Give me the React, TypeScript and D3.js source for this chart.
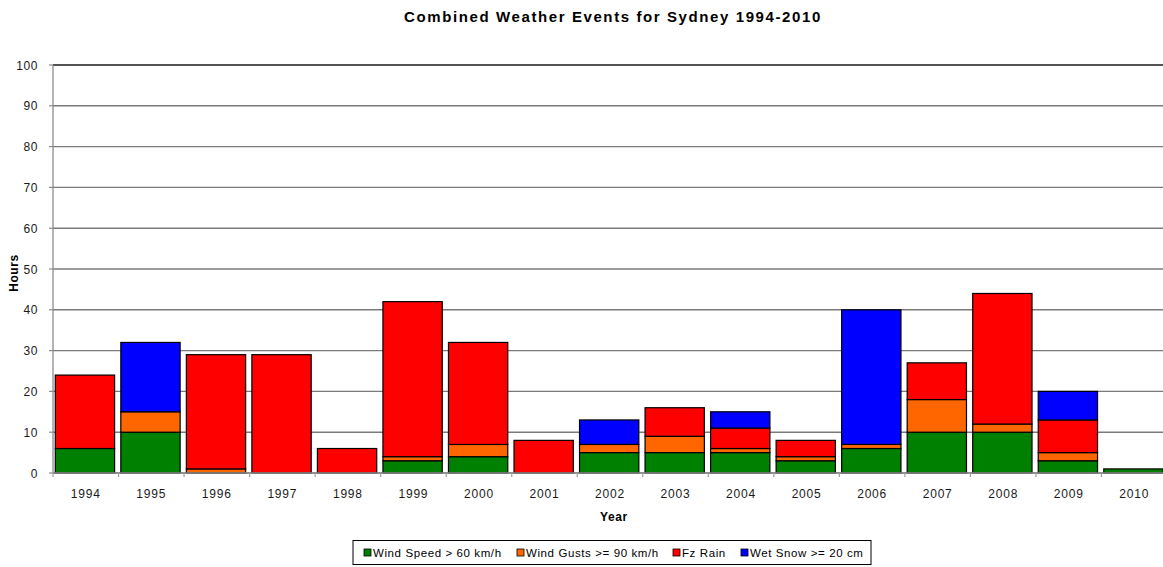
import React from "react";
import * as d3 from "d3";

const years = ["1994","1995","1996","1997","1998","1999","2000","2001","2002","2003","2004","2005","2006","2007","2008","2009","2010"];
const windSpeed = [6, 10, 0, 0, 0, 3, 4, 0, 5, 5, 5, 3, 6, 10, 10, 3, 1];
const windGusts = [0, 5, 1, 0, 0, 1, 3, 0, 2, 4, 1, 1, 1, 8, 2, 2, 0];
const fzRain = [18, 0, 28, 29, 6, 38, 25, 8, 0, 7, 5, 4, 0, 9, 32, 8, 0];
const wetSnow = [0, 17, 0, 0, 0, 0, 0, 0, 6, 0, 4, 0, 33, 0, 0, 7, 0];
const seriesNames = ["Wind Speed > 60 km/h", "Wind Gusts >= 90 km/h", "Fz Rain", "Wet Snow >= 20 cm"];
const seriesColors = ["#008000", "#ff6600", "#ff0000", "#0000ff"];
const yTicks = [0, 10, 20, 30, 40, 50, 60, 70, 80, 90, 100];

const W = 1163;
const H = 567;
const font = "'Liberation Sans', Arial, sans-serif";

export default function App() {
  const x = d3.scaleBand<string>().domain(years).range([53, 1167]).padding(0);
  const y = d3.scaleLinear().domain([0, 100]).range([473, 65]);

  const rows = years.map((yr, i) => ({
    year: yr,
    s0: windSpeed[i],
    s1: windGusts[i],
    s2: fzRain[i],
    s3: wetSnow[i],
  }));
  const stack = d3.stack<any>().keys(["s0", "s1", "s2", "s3"])(rows);

  const bw = x.bandwidth();
  const barX = (yr: string) => (x(yr) as number) + bw * 0.035;
  const barW = bw * 0.905;

  const legendX = [367, 520, 676, 744];

  return (
    <svg width={W} height={H} style={{ position: "absolute", left: 0, top: 0, background: "#fff" }} fontFamily={font}>
      <rect x={0} y={0} width={W} height={H} fill="#fff" />
      <text x={613} y={22} textAnchor="middle" fontSize={15} fontWeight="bold" fill="#000" letterSpacing={1.6}>
        Combined Weather Events for Sydney 1994-2010
      </text>

      {/* horizontal gridlines */}
      {yTicks.map((t) => (
        <line key={t} x1={53} x2={1167} y1={y(t)} y2={y(t)}
          stroke={t === 100 ? "#1a1a1a" : "#7a7a7a"} strokeWidth={1.4} />
      ))}

      {/* y axis */}
      <line x1={53} x2={53} y1={y(100)} y2={y(0)} stroke="#8c8c8c" strokeWidth={1.3} />
      {yTicks.map((t) => (
        <g key={"yt" + t}>
          <line x1={49} x2={53} y1={y(t)} y2={y(t)} stroke="#8c8c8c" strokeWidth={1.2} />
          <text x={38} y={y(t) + 4.5} textAnchor="end" fontSize={12} letterSpacing={0.6} fill="#1a1a1a">{t}</text>
        </g>
      ))}
      <text transform={`translate(18,273) rotate(-90)`} textAnchor="middle" fontSize={12} fontWeight="bold" letterSpacing={0.6} fill="#000">Hours</text>

      {/* stacked bars */}
      {stack.map((layer, si) => (
        <g key={si} fill={seriesColors[si]} stroke="#000" strokeWidth={1.2}>
          {layer.map((d: any, i: number) => {
            const h = y(d[0]) - y(d[1]);
            if (h <= 0) return null;
            return <rect key={i} x={barX(years[i])} y={y(d[1])} width={barW} height={h} />;
          })}
        </g>
      ))}

      {/* x axis */}
      <line x1={53} x2={1167} y1={y(0)} y2={y(0)} stroke="#8c8c8c" strokeWidth={1.3} />
      {years.map((yr) => (
        <line key={"xt" + yr} x1={x(yr) as number} x2={x(yr) as number} y1={y(0)} y2={y(0) + 4} stroke="#a0a0a0" strokeWidth={1.2} />
      ))}
      {years.map((yr) => (
        <text key={"xl" + yr} x={(x(yr) as number) + bw / 2} y={498} textAnchor="middle" fontSize={12} letterSpacing={0.8} fill="#1a1a1a">{yr}</text>
      ))}
      <text x={614} y={521} textAnchor="middle" fontSize={12} fontWeight="bold" letterSpacing={0.6} fill="#000">Year</text>

      {/* legend */}
      <rect x={353} y={540.5} width={518} height={24} fill="#fff" stroke="#000" strokeWidth={1} />
      {seriesNames.map((name, i) => (
        <g key={name}>
          <rect x={legendX[i] - 3} y={549} width={7} height={7} fill={seriesColors[i]} stroke="#000" strokeWidth={0.8} />
          <text x={legendX[i] + 6} y={557} fontSize={11.5} letterSpacing={0.6} fill="#000">{name}</text>
        </g>
      ))}
    </svg>
  );
}
